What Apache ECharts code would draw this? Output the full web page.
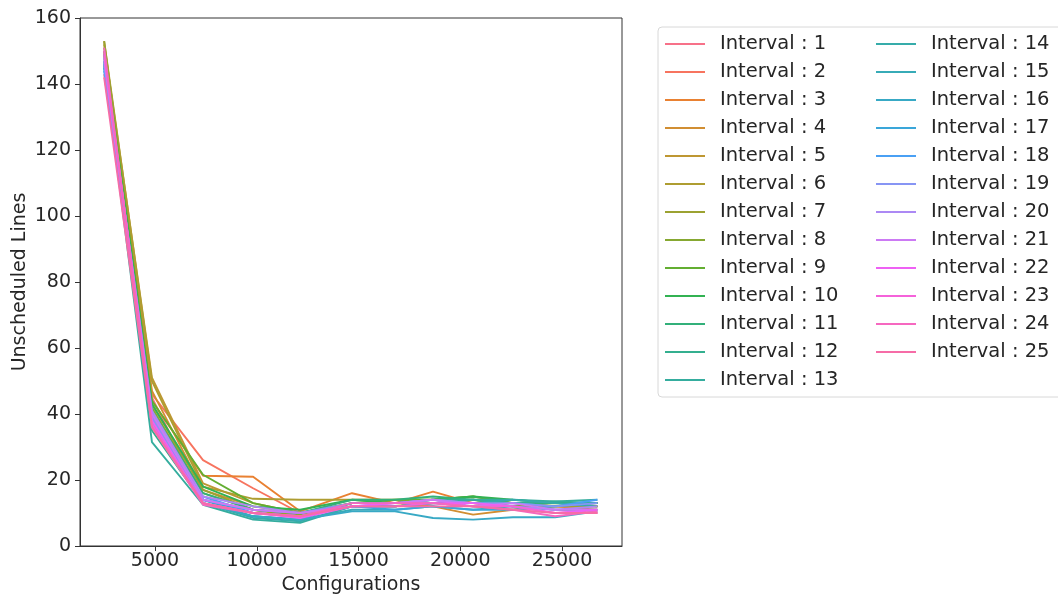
<!DOCTYPE html>
<html>
<head>
<meta charset="utf-8">
<script src="https://cdn.jsdelivr.net/npm/echarts@6/dist/echarts.min.js"></script>
<style>
html,body{margin:0;padding:0;background:#fff;}
#chart{width:1058px;height:594px;}
</style>
</head>
<body>
<div id="chart"></div>
<script>
// ---- data ----
const configurations = [2500, 4850, 7360, 9820, 12130, 14680, 16790, 18660, 20630, 22590, 24660, 26740];
const seriesNames = [];
for (let i = 1; i <= 25; i++) seriesNames.push('Interval : ' + i);
const s1  = [143, 45, 14, 11, 9, 12, 12, 13, 13, 12, 11, 10];
const s2  = [146, 46, 26, 17.5, 10, 12, 12, 13, 13, 12, 12, 11];
const s3  = [149, 44, 21.3, 21, 10.5, 16, 13, 16.5, 13, 12, 12, 12];
const s4  = [150, 47, 17, 12, 10, 13, 13, 12, 9.5, 11, 12, 12];
const s5  = [152, 51, 19, 13, 10, 12, 12, 13, 12, 11, 12, 13];
const s6  = [153, 50, 18, 14.3, 14, 14, 14, 14, 14, 13, 13, 13];
const s7  = [153, 43, 17, 11, 9, 13, 13, 14, 15, 13, 12, 12];
const s8  = [151, 42, 16, 11, 9.5, 13, 13, 13, 14, 12, 13, 12];
const s9  = [150, 44, 21.6, 13, 10, 13, 14, 14, 15, 13, 13, 13];
const s10 = [149, 43, 18, 12, 11, 14, 13, 14, 15, 14, 13, 13];
const s11 = [148, 41, 16, 11, 10, 14, 14, 15, 14, 13, 13, 13];
const s12 = [147, 35, 13, 9, 8, 13, 13, 14, 14, 13, 13.5, 13];
const s13 = [146, 31.5, 12.5, 8, 7, 12, 12, 13, 14, 14, 13.5, 14];
const s14 = [147, 38, 13, 8.5, 7.5, 12, 12, 13, 13, 14, 13, 12];
const s15 = [146, 39, 14, 9, 8, 11, 11, 12, 11, 12, 11, 11];
const s16 = [145, 37, 13, 9, 8, 10.5, 10.5, 8.5, 8, 8.7, 8.7, 10.5];
const s17 = [145, 40, 14, 10, 9, 12, 11, 12, 11, 11, 12, 13];
const s18 = [144, 38, 15, 10, 9, 12, 12, 13, 12, 13, 12, 14];
const s19 = [146, 39, 14, 11, 10, 13, 13, 14, 13, 13, 12, 13];
const s20 = [147, 41, 15, 12, 10, 12, 13, 14, 13, 12, 11, 12];
const s21 = [148, 40, 14, 11, 10, 12, 13, 14, 12, 13, 11, 11];
const s22 = [149, 38, 13, 10, 8.5, 12, 13, 13, 13, 12, 10, 11];
const s23 = [150, 37, 13, 10, 9, 12, 12, 13, 12, 12, 10, 10];
const s24 = [151, 36, 12.5, 10, 9, 13, 13, 13, 12, 11, 9, 10.5];
const s25 = [142, 36, 13, 10, 9, 12, 12, 12, 12, 11, 10, 10];
const allSeries = [s1,s2,s3,s4,s5,s6,s7,s8,s9,s10,s11,s12,s13,s14,s15,s16,s17,s18,s19,s20,s21,s22,s23,s24,s25];
const xTicks = [5000, 10000, 15000, 20000, 25000];

// ---- seaborn husl palette ----
const M = [[3.2406,-1.5372,-0.4986],[-0.9689,1.8758,0.0415],[0.0557,-0.2040,1.0570]];
function maxChroma(L, H) {
  const hrad = H / 180 * Math.PI, sinH = Math.sin(hrad), cosH = Math.cos(hrad);
  const sub1 = Math.pow(L + 16, 3) / 1560896;
  const sub2 = sub1 > 0.008856 ? sub1 : L / 903.3;
  let result = Infinity;
  for (const [m1, m2, m3] of M) {
    const top = (0.99915*m1 + 1.05122*m2 + 1.14460*m3) * sub2;
    const rb = 0.86330*m3 - 0.17266*m2;
    const lb = 0.12949*m3 - 0.38848*m1;
    const bottom = (rb*sinH + lb*cosH) * sub2;
    for (const t of [0, 1]) {
      const C = L * (top - 1.05122*t) / (bottom + 0.17266*sinH*t);
      if (C > 0 && C < result) result = C;
    }
  }
  return result;
}
function huslToHex(H, S, L) {
  const C = maxChroma(L, H) / 100 * S;
  const hr = H / 180 * Math.PI;
  const U = Math.cos(hr) * C, V = Math.sin(hr) * C;
  const t = (L + 16) / 116;
  const varY = Math.pow(t, 3) > 0.008856 ? Math.pow(t, 3) : (116*t - 16) / 903.3;
  const varU = U / (13*L) + 0.19784, varV = V / (13*L) + 0.46834;
  const Y = varY;
  const X = -(9*Y*varU) / ((varU - 4)*varV - varU*varV);
  const Z = (9*Y - 15*varV*Y - varV*X) / (3*varV);
  const rgb = M.map(r => {
    let c = r[0]*X + r[1]*Y + r[2]*Z;
    c = c <= 0.0031308 ? 12.92*c : 1.055*Math.pow(c, 1/2.4) - 0.055;
    c = Math.min(1, Math.max(0, c));
    return Math.round(c*255).toString(16).padStart(2, '0');
  });
  return '#' + rgb.join('');
}
const n = 25;
const colors = [];
for (let i = 0; i < n; i++) {
  const h = ((i / n + 0.01) % 1) * 359;
  colors.push(huslToHex(h, 0.9*99, 0.65*99));
}

const font = 'DejaVu Sans';
const txt = '#262626';
const chart = echarts.init(document.getElementById('chart'), null, {renderer: 'canvas'});
chart.setOption({
  animation: false,
  color: colors,
  textStyle: {fontFamily: font},
  grid: {left: 80, top: 18, width: 542, height: 528, outerBoundsMode: 'none', containLabel: false,
    show: true, borderColor: '#333', borderWidth: 1, backgroundColor: 'transparent'},
  xAxis: {
    type: 'value', min: 1314, max: 27948,
    name: 'Configurations', nameLocation: 'middle', nameGap: 30, nameMoveOverlap: false,
    nameTextStyle: {fontSize: 19, color: txt, fontFamily: font},
    axisLine: {show: true, lineStyle: {color: '#333'}},
    axisTick: {show: true, length: 5, customValues: xTicks, lineStyle: {color: '#333'}},
    axisLabel: {customValues: xTicks, fontSize: 19, color: txt, margin: 6, fontFamily: font,
      formatter: v => String(v)},
    splitLine: {show: false}
  },
  yAxis: {
    type: 'value', min: 0, max: 160, interval: 20,
    name: 'Unscheduled Lines', nameLocation: 'middle', nameGap: 50, nameMoveOverlap: false,
    nameTextStyle: {fontSize: 19, color: txt, fontFamily: font},
    axisLine: {show: true, lineStyle: {color: '#333'}},
    axisTick: {show: true, length: 5, lineStyle: {color: '#333'}},
    axisLabel: {fontSize: 19, color: txt, margin: 9, fontFamily: font},
    splitLine: {show: false}
  },
  legend: {
    orient: 'vertical', left: 658, top: 27, height: 360,
    padding: [6, 10, 6, 7],
    borderColor: '#d8d8d8', borderWidth: 1, borderRadius: 4,
    icon: 'rect', itemWidth: 40, itemHeight: 2, itemGap: 6,
    textStyle: {fontSize: 19.5, color: txt, fontFamily: font, lineHeight: 22, width: 150, padding: [0, 0, 0, 10]},
    data: seriesNames
  },
  series: allSeries.map((d, i) => ({
    name: seriesNames[i], type: 'line', symbol: 'none',
    lineStyle: {width: 1.9},
    data: configurations.map((x, j) => [x, d[j]])
  }))
});
</script>
</body>
</html>
